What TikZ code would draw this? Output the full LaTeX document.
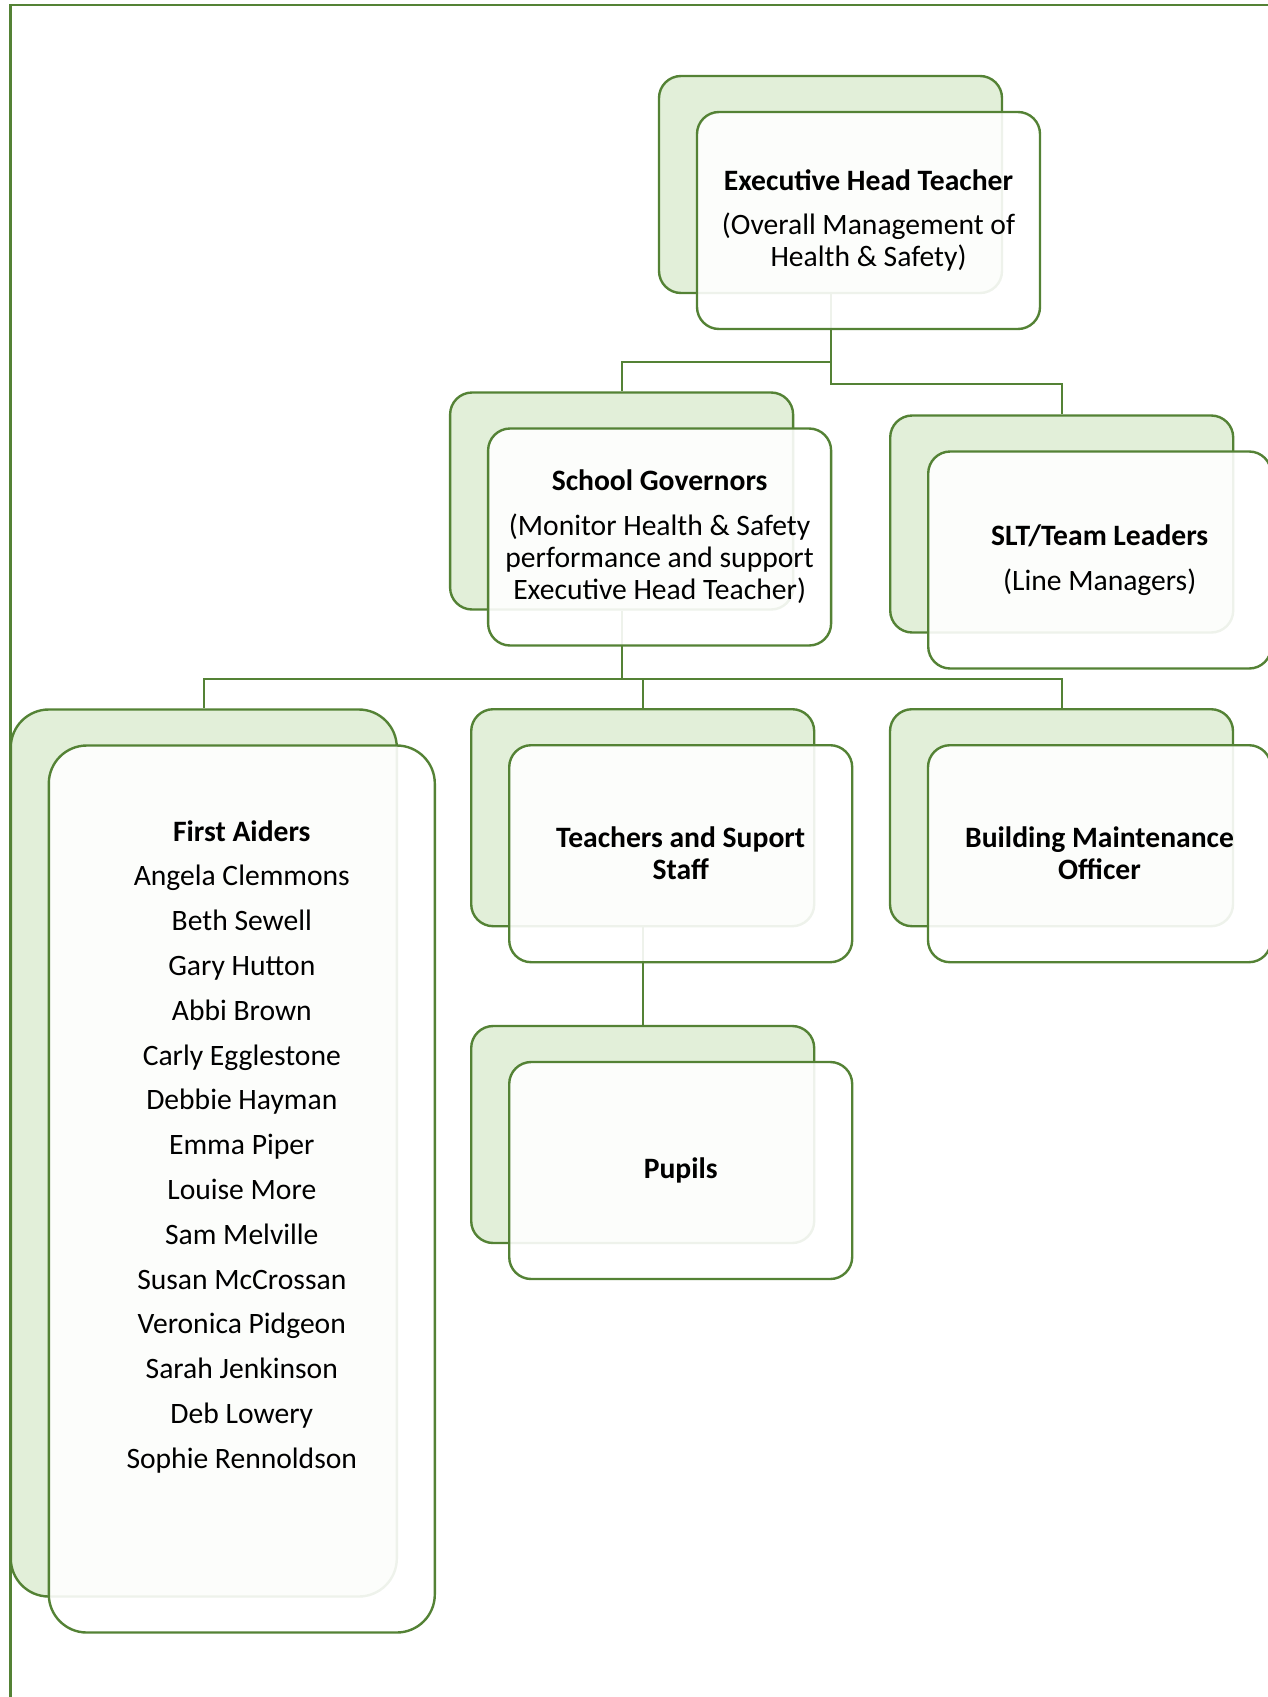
\documentclass[tikz,border=0pt]{standalone}
\usepackage{fontspec}
\setmainfont{Carlito}
\usepackage{tikz}
\usetikzlibrary{positioning}
\definecolor{boxline}{HTML}{548235}
\definecolor{boxfill}{HTML}{E2EFD9}
\newcommand{\pbreak}{\\[6.4pt]}
\tikzset{
    basic/.style     = {draw=boxline, line width=1.2pt, rectangle, rounded corners=11pt, inner sep=0pt,
                        minimum width=171.5pt, minimum height=108.5pt},
    back box/.style  = {basic, fill=boxfill},
    front box/.style = {basic, fill=white, fill opacity=0.9, text opacity=1, xshift=19pt, yshift=-18pt,
                        align=center, font=\fontsize{14.8}{16}\selectfont},
    tall box/.style  = {rounded corners=19pt, minimum width=193pt, minimum height=443.5pt},
    link/.style      = {draw=boxline, line width=1pt},
    frame/.style     = {draw=boxline, line width=1.3pt}
}

\begin{document}
\begin{tikzpicture}[x=0.5pt, y=-0.5pt]
	\useasboundingbox (0,0) rectangle (1268,1697);
	\clip (0,0) rectangle (1268,1697);
	\draw[frame] (1280,5) -- (10.7,5) -- (10.7,1710);
	% back boxes
	\node[back box] (eht-back) at (830.5,184.5) {};
	\node[back box] (sg-back) at (621.6,501) {};
	\node[back box] (slt-back) at (1061.7,524) {};
	\node[back box, tall box] (fa-back) at (203.8,1153) {};
	\node[back box] (tss-back) at (642.7,817.7) {};
	\node[back box] (bmo-back) at (1061.5,817.7) {};
	\node[back box] (pup-back) at (642.7,1134.5) {};
	% connectors
	\draw[link] (eht-back.south) -- ++(0,68) -| (sg-back.north);
	\draw[link] (eht-back.south) -- ++(0,90) -| (slt-back.north);
	\draw[link] (sg-back.south) -- ++(0,68) -| (fa-back.north);
	\draw[link] (sg-back.south) -- ++(0,68) -| (tss-back.north);
	\draw[link] (sg-back.south) -- ++(0,68) -| (bmo-back.north);
	\draw[link] (tss-back.south) -- (pup-back.north);
	% front boxes
	\node[front box] (eht) at (eht-back) {\textbf{Executive Head Teacher}\pbreak (Overall Management of\\Health \& Safety)};
	\node[front box] (sg) at (sg-back) {\textbf{School Governors}\pbreak (Monitor Health \& Safety\\performance and support\\Executive Head Teacher)};
	\node[front box] (slt) at (slt-back) {\textbf{SLT/Team Leaders}\pbreak (Line Managers)};
	\node[front box, tall box] (fa) at (fa-back) {\textbf{First Aiders}\pbreak Angela Clemmons\pbreak Beth Sewell\pbreak
		Gary Hutton\pbreak Abbi Brown\pbreak Carly Egglestone\pbreak Debbie Hayman\pbreak Emma Piper\pbreak
		Louise More\pbreak Sam Melville\pbreak Susan McCrossan\pbreak Veronica Pidgeon\pbreak Sarah Jenkinson\pbreak
		Deb Lowery\pbreak Sophie Rennoldson\pbreak \mbox{}\pbreak \mbox{}};
	\node[front box] (tss) at (tss-back) {\textbf{Teachers and Suport}\\\textbf{Staff}};
	\node[front box] (bmo) at (bmo-back) {\textbf{Building Maintenance}\\\textbf{Officer}};
	\node[front box] (pup) at (pup-back) {\textbf{Pupils}};
\end{tikzpicture}
\end{document}
